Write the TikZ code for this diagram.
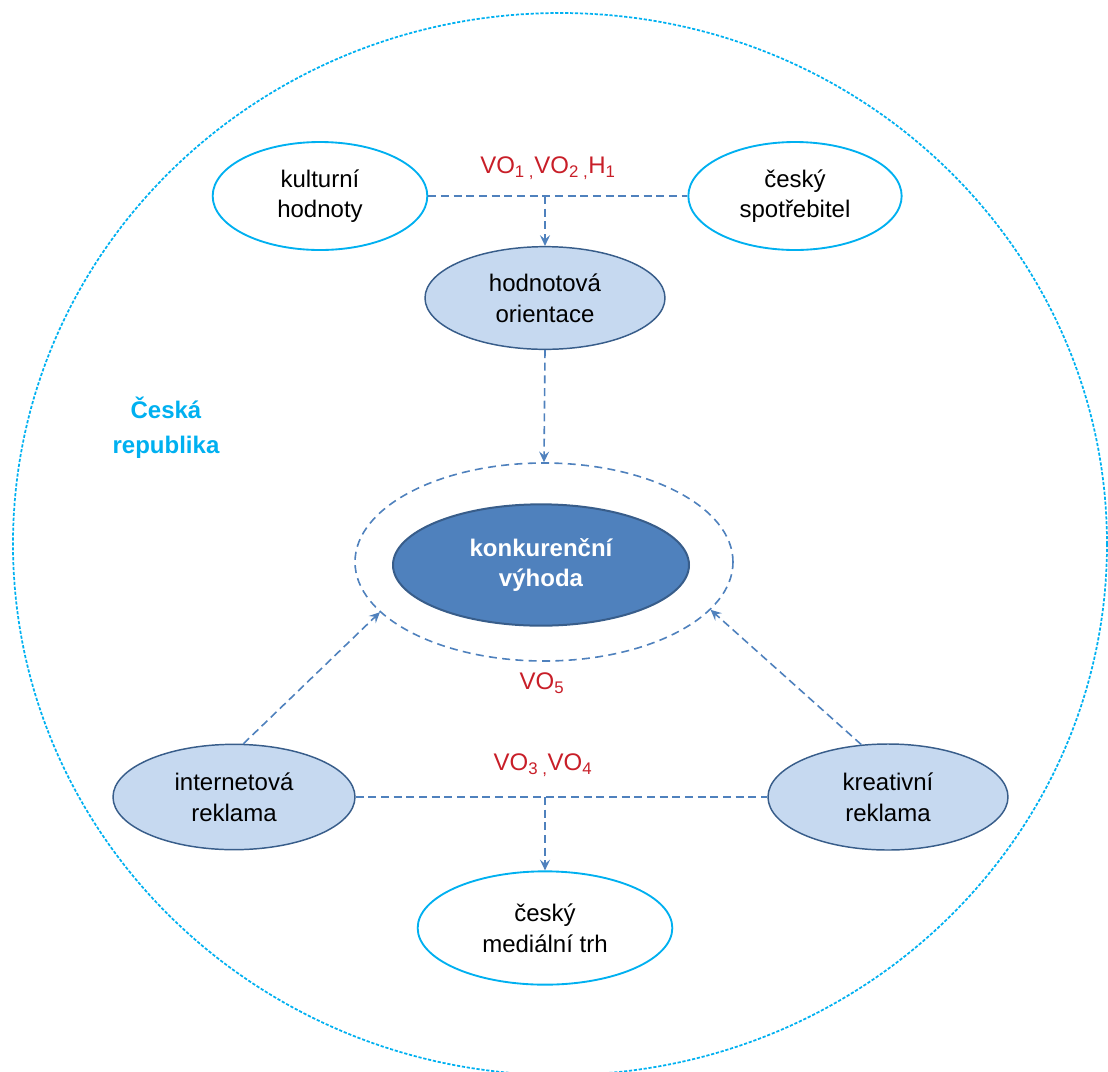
\documentclass[tikz,border=0pt]{standalone}
\usepackage{fontspec}
\setmainfont{Liberation Sans}
\usetikzlibrary{shapes.geometric,arrows.meta}
\definecolor{cyanline}{RGB}{0,176,240}
\definecolor{linkblue}{RGB}{79,129,189}
\definecolor{paleblue}{RGB}{198,217,240}
\definecolor{darkrim}{RGB}{56,93,138}
\definecolor{deepblue}{RGB}{79,129,189}
\definecolor{votext}{RGB}{200,30,40}
\tikzset{
	oval/.style={ellipse,inner sep=0pt,align=center,font=\fontsize{18}{23}\selectfont},
	whiteoval/.style={oval,draw=cyanline,line width=1.4pt,fill=white},
	paleoval/.style={oval,draw=darkrim,line width=1.1pt,fill=paleblue},
	link/.style={draw=linkblue,line width=1.2pt,dash pattern=on 6pt off 3.5pt},
	linkarrow/.style={link,-{Stealth[length=8pt,width=7.5pt,inset=3pt]}},
	vo/.style={text=votext,font=\fontsize{18}{22}\selectfont,inner sep=0pt},
}
\begin{document}
\begin{tikzpicture}[x=0.75pt,y=0.75pt,yscale=-1,xscale=1]
			\useasboundingbox (0,0) rectangle (1108,1072);
			\draw[cyanline,line width=1.3pt,dash pattern=on 2.4pt off 1.3pt] (560,544) ellipse [x radius=547, y radius=531];
			\node[whiteoval,minimum width=161pt,minimum height=81pt] (kult) at (320,196) {kulturní\\hodnoty};
			\node[whiteoval,minimum width=160pt,minimum height=81pt] (spotr) at (795,196) {český\\spotřebitel};
			\node[paleoval,minimum width=180pt,minimum height=77pt] (hodn) at (545,298) {hodnotová\\orientace};
			\node[draw=linkblue,line width=1.2pt,dash pattern=on 6pt off 4pt,ellipse,inner sep=0pt,minimum width=283.5pt,minimum height=148.5pt] (ring) at (544,562) {};
			\node[oval,draw=darkrim,line width=1.5pt,fill=deepblue,text=white,font=\bfseries\fontsize{18}{23}\selectfont,minimum width=222pt,minimum height=91pt] (konk) at (541,565) {konkurenční\\výhoda};
			\node[paleoval,minimum width=181.5pt,minimum height=79pt] (inet) at (234,797) {internetová\\reklama};
			\node[paleoval,minimum width=180pt,minimum height=79.5pt] (kreat) at (888,797) {kreativní\\reklama};
			\node[whiteoval,minimum width=191pt,minimum height=85pt] (media) at (545,928) {český\\mediální trh};
			\node[text=cyanline,align=center,inner sep=0pt,font=\bfseries\fontsize{18}{26}\selectfont] (cr) at (166,428) {Česká\\republika};
			\node[vo] (vo12) at (548,168) {VO\textsubscript{1 ,}VO\textsubscript{2 ,}H\textsubscript{1}};
			\node[vo] (vo5) at (542,683) {VO\textsubscript{5}};
			\node[vo] (vo34) at (543,765) {VO\textsubscript{3 ,}VO\textsubscript{4}};
			\coordinate (topmid) at (hodn.north |- kult.east);
			\coordinate (botmid) at (media.north |- inet.east);
			\draw[link] (kult.east) -- (spotr.west);
			\draw[linkarrow] (topmid) -- (hodn.north);
			\draw[linkarrow] (hodn.south) -- (ring.north);
			\draw[linkarrow] (inet.80) -- (ring.197);
			\draw[linkarrow] (kreat.117) -- (ring.344);
			\draw[link] (inet.east) -- (kreat.west);
			\draw[linkarrow] (botmid) -- (media.north);
\end{tikzpicture}
\end{document}
